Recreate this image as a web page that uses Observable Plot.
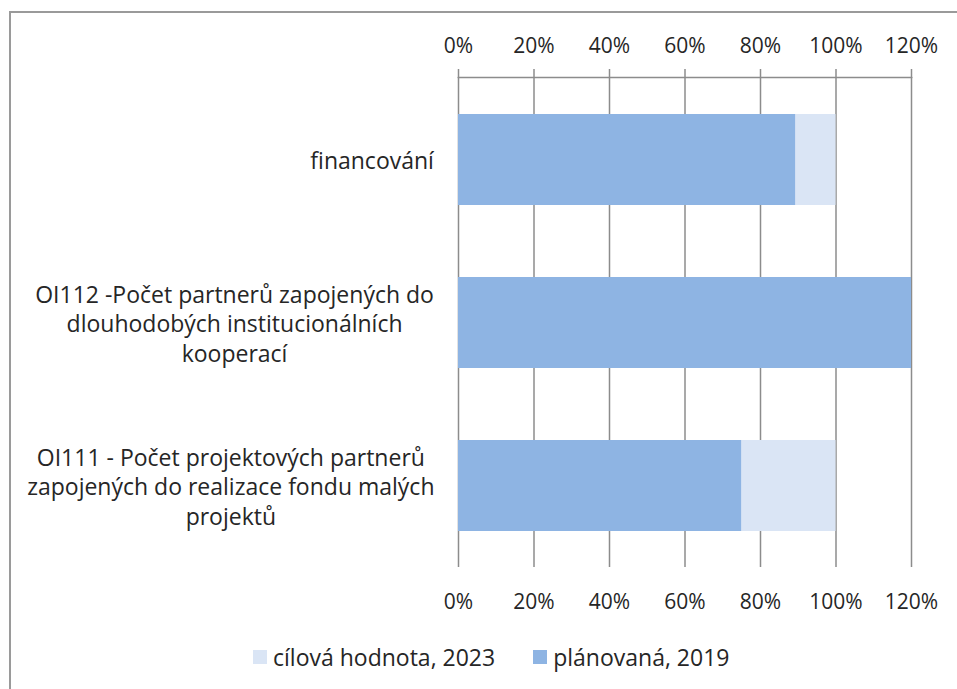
<!DOCTYPE html>
<html><head><meta charset="utf-8">
<script src="https://cdn.jsdelivr.net/npm/d3@7"></script>
<script src="https://cdn.jsdelivr.net/npm/@observablehq/plot@0.6"></script>
<style>
body{margin:0;background:#fff;width:957px;height:689px;overflow:hidden;position:relative;font-family:"Open Sans",sans-serif;}
#frame{position:absolute;left:9px;top:11px;width:1000px;height:1000px;border-left:2px solid #9a9a9a;border-top:2px solid #9a9a9a;}
#chart{position:absolute;left:0;top:0;}
#legend{position:absolute;left:253px;top:641px;display:flex;align-items:center;font-size:23px;color:#262626;white-space:nowrap;}
.sw{width:14px;height:14px;display:inline-block;margin-right:6px}
.item{display:flex;align-items:center;margin-right:38px}
</style></head><body>
<div id="frame"></div><div id="chart"></div><div id="legend"></div>
<script>
const categories = [
  "financování",
  "OI112 -Počet partnerů zapojených do\ndlouhodobých institucionálních\nkooperací",
  "OI111 - Počet projektových partnerů\nzapojených do realizace fondu malých\nprojektů"
];
const cilova = [1.0, 1.0, 1.0];
const planovana = [0.893, 1.2, 0.75];
const xTicks = [0, 0.2, 0.4, 0.6, 0.8, 1.0, 1.2];
const seriesNames = ["cílová hodnota, 2023", "plánovaná, 2019"];
const seriesColors = ["#DAE5F5", "#8EB4E3"];

const rows = categories.flatMap((c, i) => [
  {cat: c, series: seriesNames[0], v: cilova[i]},
  {cat: c, series: seriesNames[1], v: planovana[i]}
]);
const pct = d3.format(".0%");
const gridColor = "#8c8c8c";

const plot = Plot.plot({
  width: 957, height: 630,
  marginLeft: 458, marginRight: 46, marginTop: 77, marginBottom: 63,
  style: {fontFamily: "Open Sans", fontSize: "21px", color: "#262626", background: "transparent"},
  x: {domain: [0, 1.2]},
  y: {domain: categories, padding: 0},
  color: {domain: seriesNames, range: seriesColors},
  marks: [
    Plot.gridX(xTicks, {stroke: gridColor, strokeOpacity: 1, strokeWidth: 1.5}),
    Plot.barX(rows, {x1: 0, x2: "v", y: "cat", fill: "series", insetTop: 36, insetBottom: 36}),
    Plot.frame({anchor: "top", stroke: gridColor, strokeWidth: 1.5}),
    Plot.axisX(xTicks, {anchor: "top", tickSize: 9, tickPadding: 16, tickFormat: pct, stroke: gridColor, strokeWidth: 1.5, label: null}),
    Plot.axisX(xTicks, {anchor: "bottom", tickSize: 0, tickPadding: 27, tickFormat: pct, label: null}),
    Plot.axisY({tickSize: 0, tickPadding: 24, lineHeight: 1.28, fontSize: 23, label: null})
  ]
});
document.getElementById("chart").appendChild(plot);

// centre each multi-line label block, keeping its right edge at the axis padding
d3.select(plot).selectAll('g[aria-label="y-axis tick label"] text').each(function() {
  const bb = this.getBBox();
  const t = d3.select(this);
  t.attr("text-anchor", "middle");
  const tr = t.attr("transform") || "";
  t.attr("transform", tr + ` translate(${-bb.width / 2},0)`);
});

const legend = d3.select("#legend");
seriesNames.forEach((n, i) => {
  const it = legend.append("div").attr("class", "item");
  it.append("span").attr("class", "sw").style("background", seriesColors[i]);
  it.append("span").text(n);
});
</script>
</body></html>
